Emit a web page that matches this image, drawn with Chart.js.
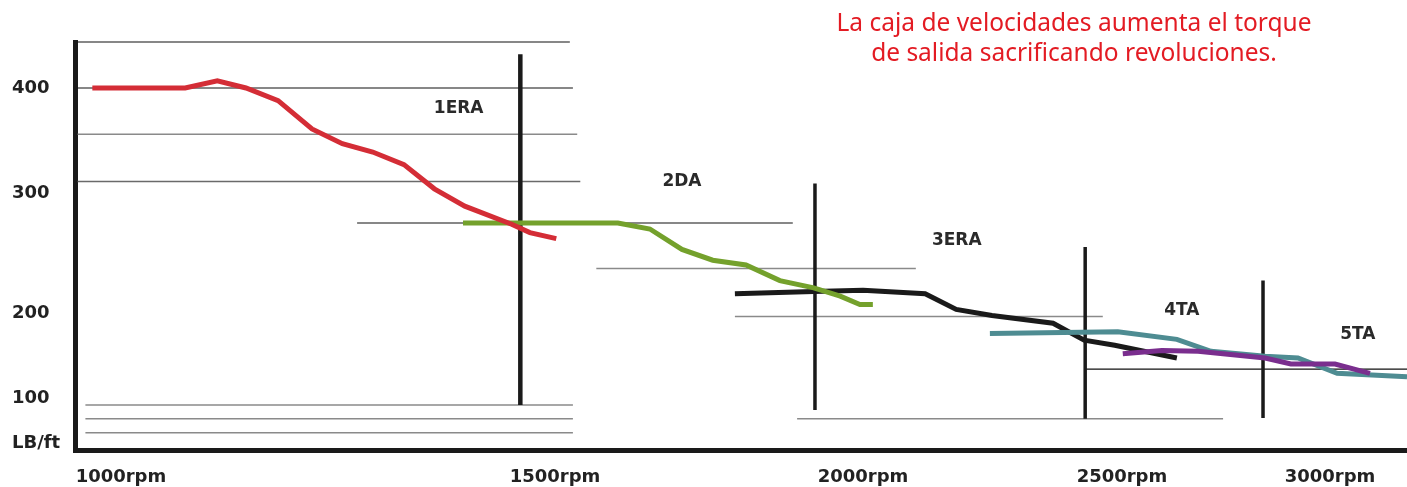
<!DOCTYPE html>
<html>
<head>
<meta charset="utf-8">
<script src="https://cdn.jsdelivr.net/npm/chart.js@4"></script>
<style>
  html, body { margin: 0; padding: 0; background: #fff; }
  #wrap { position: relative; width: 1407px; height: 487px; }
  #note {
    position: absolute; left: 774px; top: 7px; width: 600px;
    text-align: center; color: #e31b23;
    font: 24.5px "Noto Sans", sans-serif; line-height: 30px;
  }
</style>
</head>
<body>
<div id="wrap">
  <canvas id="torque-chart" width="1407" height="487"></canvas>
  <div id="note">La caja de velocidades aumenta el torque<br>de salida sacrificando revoluciones.</div>
</div>
<script>
// axis ticks
const rpmTicks = [1000, 1500, 2000, 2500, 3000];
const rpmTickLabels = ['1000rpm', '1500rpm', '2000rpm', '2500rpm', '3000rpm'];
const torqueTicks = [48, 100, 200, 300, 400];
const torqueTickLabels = ['LB/ft', '100', '200', '300', '400'];

// torque curve of each gear (rpm, lb-ft)
const gears = ['1ERA', '2DA', '3ERA', '4TA', '5TA'];
const firstRpm = [967, 1074, 1111, 1144, 1181, 1220, 1255, 1290, 1326, 1361, 1396, 1450, 1471, 1502];
const firstTorque = [400, 400, 407, 400, 388, 361, 347, 339, 327, 304, 289, 274, 267, 262];
const secondRpm = [1394, 1602, 1654, 1706, 1756, 1810, 1865, 1920, 1963, 1995, 2019];
const secondTorque = [275, 275, 270, 253, 244, 240, 227, 221, 214, 207, 207];
const thirdRpm = [1792, 1920, 2000, 2120, 2180, 2249, 2367, 2427, 2486, 2632];
const thirdTorque = [216, 218, 219, 216, 203, 197, 188, 168, 162, 147];
const fourthRpm = [2245, 2492, 2632, 2714, 2844, 2923, 3017, 3185];
const fourthTorque = [176, 178, 169, 155, 149, 147, 129, 125];
const fifthRpm = [2502, 2596, 2683, 2844, 2906, 3012, 3096];
const fifthTorque = [152, 156, 155, 147, 140, 140, 129];

// horizontal guide lines: torque level, from rpm, to rpm
const guideTorque = [445, 400, 356, 311, 275, 237, 196, 134, 92, 76, 60, 76];
const guideFrom = [950, 950, 950, 950, 1272, 1567, 1792, 2429, 959, 959, 959, 1893];
const guideTo = [1524, 1529, 1536, 1541, 1886, 2102, 2463, 3185, 1529, 1529, 1529, 2743];

// vertical shift marks: rpm, top torque, bottom torque
const shiftRpm = [1460, 1922, 2429, 2839];
const shiftTop = [433, 309, 255, 227];
const shiftBottom = [92, 86, 76, 77];

// where the gear names sit (rpm, torque)
const gearSpots = [[1389, 380], [1706, 311], [2181, 260], [2644, 202], [3067, 175]];

// the drawing does not space its ticks evenly, so each axis is piecewise linear
const scaleBreaks = {
    x: { values: [947, 1000, 1500, 2000, 2500, 3000, 3185], at: [0, 0.0345, 0.3604, 0.5916, 0.786, 0.9422, 1] },
    y: { values: [40, 100, 200, 300, 400, 445], at: [0, 0.1275, 0.3358, 0.6299, 0.8873, 1] }
};
const axisTicks = { x: rpmTicks, y: torqueTicks };

class BrokenScale extends Chart.LinearScale {
    buildTicks() {
        return axisTicks[this.id].map(value => ({ value }));
    }
    getPixelForValue(value) {
        const b = scaleBreaks[this.id];
        let i = 1;
        while (i < b.values.length - 1 && value > b.values[i]) i++;
        const t = (value - b.values[i - 1]) / (b.values[i] - b.values[i - 1]);
        return this.getPixelForDecimal(b.at[i - 1] + t * (b.at[i] - b.at[i - 1]));
    }
    getValueForPixel(pixel) {
        const b = scaleBreaks[this.id];
        const d = this.getDecimalForPixel(pixel);
        let i = 1;
        while (i < b.at.length - 1 && d > b.at[i]) i++;
        const t = (d - b.at[i - 1]) / (b.at[i] - b.at[i - 1]);
        return b.values[i - 1] + t * (b.values[i] - b.values[i - 1]);
    }
}
BrokenScale.id = 'broken';
BrokenScale.defaults = Chart.LinearScale.defaults;
Chart.register(BrokenScale);

function points(xs, ys) {
    return xs.map((x, i) => ({ x, y: ys[i] }));
}

function curve(label, xs, ys, color, order) {
    return {
        label,
        data: points(xs, ys),
        borderColor: color,
        borderWidth: 5,
        pointRadius: 0,
        order,
        clip: false
    };
}

const guideColors = ['#111', '#111', '#8a8a8a', '#6a6a6a', '#111', '#8a8a8a', '#8a8a8a', '#111', '#8a8a8a', '#8a8a8a', '#8a8a8a', '#8a8a8a'];

const guides = guideTorque.map((t, i) => ({
    data: [{ x: guideFrom[i], y: t }, { x: guideTo[i], y: t }],
    borderColor: guideColors[i],
    borderWidth: guideColors[i] === '#111' ? 1.2 : 1.5,
    pointRadius: 0,
    order: 7,
    clip: false
}));

const shifts = shiftRpm.map((r, i) => ({
    data: [{ x: r, y: shiftTop[i] }, { x: r, y: shiftBottom[i] }],
    borderColor: '#1a1a1a',
    borderWidth: i === 0 ? 4.5 : 3.5,
    pointRadius: 0,
    order: 6,
    clip: false
}));

const gearLabelPlugin = {
    id: 'gearLabels',
    afterDatasetsDraw(chart) {
        const { ctx, scales: { x, y } } = chart;
        ctx.save();
        ctx.font = 'bold 17px "DejaVu Sans"';
        ctx.fillStyle = '#2a2a2a';
        ctx.textAlign = 'center';
        ctx.textBaseline = 'middle';
        gears.forEach((g, i) => {
            ctx.fillText(g, x.getPixelForValue(gearSpots[i][0]), y.getPixelForValue(gearSpots[i][1]));
        });
        ctx.restore();
    }
};

const tickFont = { family: 'DejaVu Sans', size: 18, weight: 'bold' };

new Chart(document.querySelector('#torque-chart').getContext('2d'), {
    type: 'line',
    data: {
        datasets: [
            curve(gears[4], fifthRpm, fifthTorque, '#7a2e8e', 1),
            curve(gears[0], firstRpm, firstTorque, '#d42d36', 2),
            curve(gears[3], fourthRpm, fourthTorque, '#4e8c92', 3),
            curve(gears[1], secondRpm, secondTorque, '#74a12c', 4),
            curve(gears[2], thirdRpm, thirdTorque, '#1a1a1a', 5),
            ...shifts,
            ...guides
        ]
    },
    options: {
        responsive: false,
        animation: false,
        devicePixelRatio: 1,
        layout: { padding: { left: 12, top: 42, right: 0, bottom: 0 } },
        plugins: { legend: { display: false }, tooltip: { enabled: false } },
        scales: {
            x: {
                type: 'broken',
                min: 947,
                max: 3185,
                grid: { display: false },
                border: { display: true, color: '#1a1a1a', width: 5 },
                ticks: {
                    autoSkip: false,
                    maxRotation: 0,
                    padding: 9,
                    color: '#222',
                    font: tickFont,
                    callback: (v, i) => rpmTickLabels[i]
                },
                afterFit: scale => { scale.height = 37; }
            },
            y: {
                type: 'broken',
                min: 40,
                max: 445,
                grid: { display: false },
                border: { display: true, color: '#1a1a1a', width: 5 },
                ticks: {
                    crossAlign: 'far',
                    padding: 0,
                    color: '#222',
                    font: tickFont,
                    callback: (v, i) => torqueTickLabels[i]
                },
                afterFit: scale => { scale.width = 63; }
            }
        }
    },
    plugins: [gearLabelPlugin]
});
</script>
</body>
</html>
